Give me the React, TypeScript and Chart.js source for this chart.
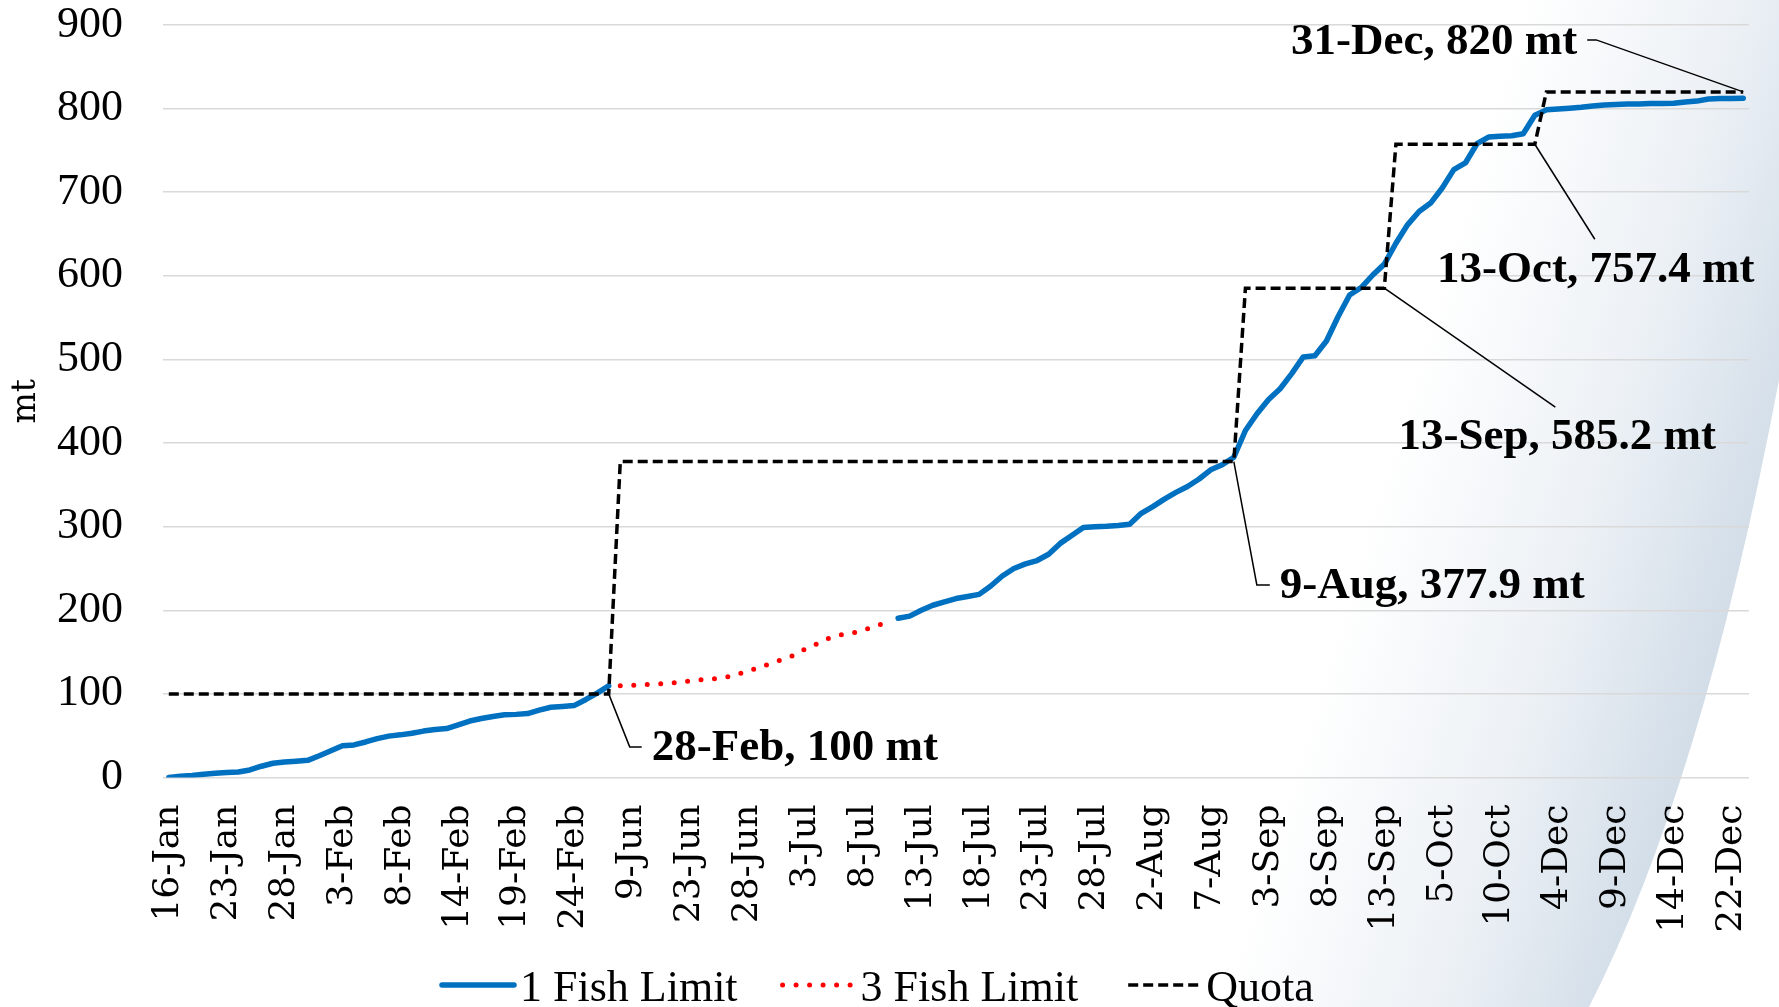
import React, { useEffect, useRef } from 'react';
import { Chart, registerables } from 'chart.js';

Chart.register(...registerables);

// ---- data ----
const tickDates = [
  '16-Jan', '23-Jan', '28-Jan', '3-Feb', '8-Feb', '14-Feb', '19-Feb', '24-Feb',
  '9-Jun', '23-Jun', '28-Jun', '3-Jul', '8-Jul', '13-Jul', '18-Jul', '23-Jul',
  '28-Jul', '2-Aug', '7-Aug', '3-Sep', '8-Sep', '13-Sep', '5-Oct', '10-Oct',
  '4-Dec', '9-Dec', '14-Dec', '22-Dec',
];
const CATEGORY_COUNT = 137;
const LABEL_EVERY = 5;

// 1 Fish Limit, 16-Jan .. 28-Feb (categories 0-38)
const oneFishEarly = [
  0, 1.5, 2.5, 4, 5, 6, 6.5, 9, 13.5, 17,
  18.5, 19.5, 20.5, 26, 32, 38, 39, 42.5, 46.5, 49.5,
  51, 53, 55.5, 57.5, 58.5, 63, 67.5, 70.5, 73, 75,
  75.5, 76.5, 80.5, 84, 85, 86, 93, 101, 109.6,
];
// 3 Fish Limit (categories 39-62)
const threeFish = [
  109.8, 110.3, 111, 111.8, 112.4, 113.6, 115.5, 116.8, 118, 119.5,
  122.5, 127.5, 131.5, 136.5, 141, 146, 154, 160, 166.5, 170.5,
  172.5, 176, 181, 185.5,
];
// 1 Fish Limit again (categories 63-136)
const oneFishLate = [
  190.5, 193, 200, 206, 210, 214, 216.5, 219, 229, 241,
  250, 255.5, 259.5, 267, 280, 289.5, 299, 300, 300.5, 301.5,
  303, 316, 324, 333, 341, 348, 357, 368, 374, 383,
  415, 435, 452, 465, 483, 503, 504.5, 522, 551, 577,
  586, 601, 614, 639, 661, 677, 687, 705, 727, 735,
  758, 766, 767, 767.5, 770, 792, 798.5, 799.5, 800.5, 801.5,
  803, 804.4, 805, 805.5, 805.6, 806, 806.2, 806.4, 808, 809,
  811.5, 812, 812.2, 812.5,
];
const quotaLevels = [100, 377.9, 585.2, 757.4, 820];
const quotaLastIndex = [38, 92, 105, 118, 136];
const quotaDates = ['28-Feb', '9-Aug', '13-Sep', '13-Oct', '31-Dec'];

// ---- derived tables ----
const categories = Array.from({ length: CATEGORY_COUNT }, (_, i) =>
  i % LABEL_EVERY === 0 && tickDates[i / LABEL_EVERY] ? tickDates[i / LABEL_EVERY] : ''
);
const oneFishData: (number | null)[] = [
  ...oneFishEarly,
  ...Array(threeFish.length).fill(null),
  ...oneFishLate,
];
const threeFishData: (number | null)[] = [
  ...Array(oneFishEarly.length).fill(null),
  ...threeFish,
  ...Array(oneFishLate.length).fill(null),
];
const quotaData = categories.map((_, i) => quotaLevels[quotaLastIndex.findIndex((e) => i <= e)]);

// ---- styling of callouts (offsets from the anchored point) ----
const calloutStyle: any[] = [
  { elbow: [21, 53], end: [33, 53], text: [43, 54], align: 'left' },
  { elbow: [23, 123.4], end: [36, 123.4], text: [46, 125], align: 'left' },
  { end: [171, 119], text: [173, 149], align: 'center' },
  { end: [60, 95], text: [61, 126], align: 'center' },
  { elbow: [-147, -52], end: [-156, -52], text: [-166, -50], align: 'right' },
];

const W = 1779;
const H = 1007;

const bgPlugin = {
  id: 'bgShape',
  beforeDraw(chart: any) {
    const ctx = chart.ctx;
    ctx.save();
    ctx.fillStyle = '#ffffff';
    ctx.fillRect(0, 0, chart.width, chart.height);
    const g = ctx.createLinearGradient(1690, 760, 1326, 650);
    g.addColorStop(0, 'rgba(210,221,232,1)');
    g.addColorStop(0.45, 'rgba(210,221,232,0.42)');
    g.addColorStop(1, 'rgba(210,221,232,0)');
    ctx.beginPath();
    ctx.moveTo(1000, 0);
    ctx.lineTo(chart.width, 0);
    ctx.lineTo(chart.width, 380);
    ctx.quadraticCurveTo(1702, 786, 1589, chart.height);
    ctx.lineTo(900, chart.height);
    ctx.closePath();
    ctx.fillStyle = g;
    ctx.fill();
    ctx.restore();
  },
};

const calloutPlugin = {
  id: 'callouts',
  afterDatasetsDraw(chart: any) {
    const { ctx } = chart;
    const xs = chart.scales.x;
    const ys = chart.scales.y;
    ctx.save();
    ctx.strokeStyle = '#000';
    ctx.fillStyle = '#000';
    ctx.lineWidth = 1.5;
    ctx.setLineDash([]);
    ctx.font = 'bold 45px "Liberation Serif", serif';
    ctx.textBaseline = 'middle';
    quotaLastIndex.forEach((idx, k) => {
      const ax = xs.getPixelForValue(idx);
      const ay = ys.getPixelForValue(quotaLevels[k]);
      const st = calloutStyle[k];
      ctx.beginPath();
      ctx.moveTo(ax, ay);
      if (st.elbow) ctx.lineTo(ax + st.elbow[0], ay + st.elbow[1]);
      ctx.lineTo(ax + st.end[0], ay + st.end[1]);
      ctx.stroke();
      ctx.textAlign = st.align;
      ctx.fillText(`${quotaDates[k]}, ${quotaLevels[k]} mt`, ax + st.text[0], ay + st.text[1]);
    });
    ctx.restore();
  },
};

const legendPlugin = {
  id: 'bottomLegend',
  afterDraw(chart: any) {
    const ctx = chart.ctx;
    const order = [1, 2, 0];
    const gaps = [45, 50, 0];
    ctx.save();
    ctx.font = '44px "Liberation Serif", serif';
    ctx.textBaseline = 'alphabetic';
    ctx.textAlign = 'left';
    let x = 442;
    const lineY = 985;
    const textY = 1001;
    order.forEach((di, k) => {
      const ds = chart.data.datasets.find((d: any) => d.legendPos === di);
      ctx.save();
      ctx.strokeStyle = ds.borderColor;
      ctx.lineWidth = ds.borderWidth;
      ctx.setLineDash(ds.borderDash || []);
      ctx.lineCap = ds.borderCapStyle || 'butt';
      ctx.beginPath();
      ctx.moveTo(x, lineY);
      ctx.lineTo(x + 72, lineY);
      ctx.stroke();
      ctx.restore();
      ctx.fillStyle = '#000';
      ctx.fillText(ds.label, x + 78, textY);
      x += 78 + ctx.measureText(ds.label).width + gaps[k];
    });
    ctx.restore();
  },
};

export default function App() {
  const canvasRef = useRef<HTMLCanvasElement | null>(null);

  useEffect(() => {
    const canvas = canvasRef.current;
    if (!canvas) return;
    const chart = new Chart(canvas, {
      type: 'line',
      data: {
        labels: categories,
        datasets: [
          {
            label: '1 Fish Limit',
            legendPos: 1,
            data: oneFishData,
            borderColor: '#0070C0',
            backgroundColor: '#0070C0',
            borderWidth: 5.5,
            borderCapStyle: 'round',
            borderJoinStyle: 'round',
            pointRadius: 0,
            tension: 0,
            spanGaps: false,
            order: 1,
          } as any,
          {
            label: '3 Fish Limit',
            legendPos: 2,
            data: threeFishData,
            borderColor: '#FF0000',
            backgroundColor: '#FF0000',
            borderWidth: 5,
            borderDash: [0, 13.5],
            borderCapStyle: 'round',
            pointRadius: 0,
            tension: 0,
            spanGaps: false,
            order: 2,
          } as any,
          {
            label: 'Quota',
            legendPos: 0,
            data: quotaData,
            borderColor: '#000000',
            backgroundColor: '#000000',
            borderWidth: 3.5,
            borderDash: [10, 5],
            borderCapStyle: 'butt',
            pointRadius: 0,
            tension: 0,
            order: 0,
          } as any,
        ],
      },
      options: {
        animation: false,
        responsive: false,
        events: [],
        layout: { padding: { top: 25, right: 30, bottom: 0, left: 0 } },
        plugins: {
          legend: { display: false },
          tooltip: { enabled: false },
        },
        scales: {
          x: {
            type: 'category',
            offset: true,
            grid: { display: false, drawTicks: false },
            border: { display: false },
            ticks: {
              autoSkip: false,
              maxRotation: 90,
              minRotation: 90,
              padding: 27,
              color: '#000',
              font: { family: '"DejaVu Serif", serif', size: 36 },
              callback: (_v: any, i: number) => categories[i],
            },
            afterFit: (s: any) => {
              s.height = H - 777.5;
              s.paddingLeft = 0;
              s.paddingRight = 0;
            },
          },
          y: {
            min: 0,
            max: 900,
            ticks: {
              stepSize: 100,
              padding: 40,
              color: '#000',
              font: { family: '"Liberation Serif", serif', size: 44 },
            },
            grid: { color: '#D9D9D9', lineWidth: 1.5, drawTicks: false },
            border: { display: false },
            title: {
              display: true,
              text: 'mt',
              color: '#000',
              font: { family: '"DejaVu Serif", serif', size: 33 },
              padding: { top: 7, bottom: 0 },
            },
            afterFit: (s: any) => {
              s.width = 163;
              s.paddingTop = 0;
              s.paddingBottom = 0;
            },
          },
        },
      } as any,
      plugins: [bgPlugin, calloutPlugin, legendPlugin],
    });
    return () => chart.destroy();
  }, []);

  return (
    <div style={{ position: 'absolute', left: 0, top: 0, width: W, height: H, background: '#fff' }}>
      <canvas ref={canvasRef} width={W} height={H} style={{ display: 'block', width: W, height: H }} />
    </div>
  );
}
